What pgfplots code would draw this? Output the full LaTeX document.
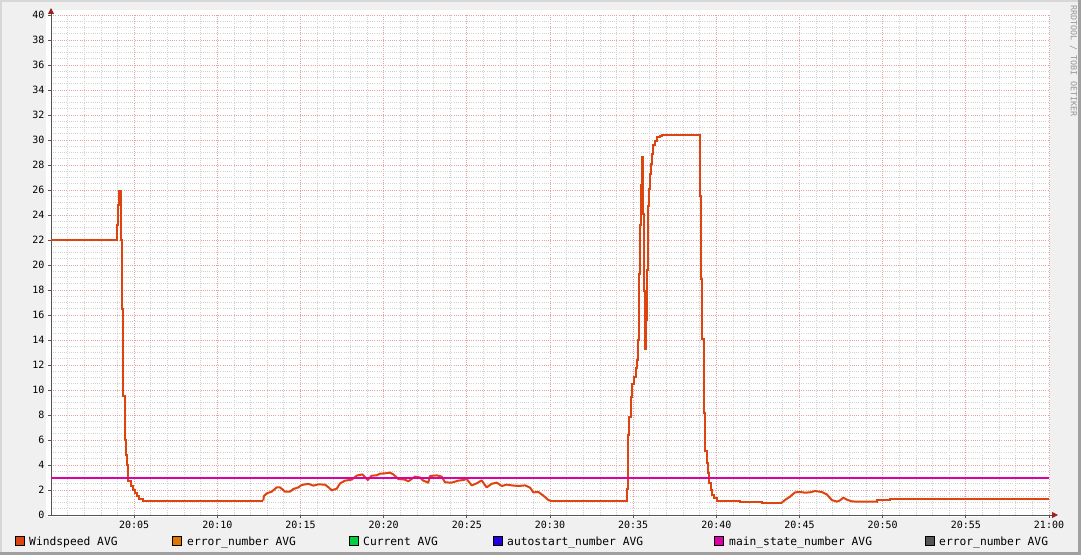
\documentclass[border=0pt]{standalone}
\usepackage{pgfplots}
\pgfplotsset{compat=1.18}
\usepackage{pgfplotstable}
\usepackage{fontspec}
\setmainfont{DejaVu Sans Mono}
\usetikzlibrary{arrows.meta}
\definecolor{bgc}{HTML}{F0F0F0}
\definecolor{wind}{HTML}{DD4410}
\definecolor{errc}{HTML}{E07800}
\definecolor{curc}{HTML}{00D040}
\definecolor{autoc}{HTML}{2200DD}
\definecolor{mainc}{HTML}{DD00A8}
\definecolor{err2c}{HTML}{555555}
\definecolor{majgrid}{HTML}{E6A0A0}
\definecolor{mingrid}{HTML}{D2D2D2}
\definecolor{axc}{HTML}{555555}
\definecolor{arrc}{HTML}{A02020}

% Windspeed AVG, stepped parts
\pgfplotstableread{
t v
0 22
3.99 23.2
4.05 24.8
4.11 25.9
4.19 22.0
4.25 16.5
4.35 9.5
4.43 7.3
4.47 6.0
4.51 4.8
4.59 4.0
4.65 2.7
4.79 2.3
4.91 2.0
5.03 1.8
5.15 1.5
5.27 1.3
5.51 1.15
12.76 1.15
}\windA
% Windspeed AVG, wavy part 1
\pgfplotstableread{
t v
12.76 1.15
12.80 1.5
12.97 1.73
13.27 1.87
13.57 2.21
13.77 2.21
14.07 1.87
14.37 1.87
14.57 2.08
14.87 2.21
15.07 2.4
15.47 2.5
15.77 2.35
16.07 2.45
16.47 2.43
16.70 2.2
16.88 1.97
17.18 2.11
17.38 2.53
17.68 2.75
18.08 2.83
18.38 3.15
18.72 3.25
19.04 2.8
19.28 3.15
19.58 3.17
19.78 3.31
20.08 3.33
20.38 3.39
20.58 3.25
20.88 2.88
21.28 2.83
21.48 2.69
21.88 3.07
22.18 3.0
22.38 2.75
22.68 2.59
22.79 3.12
23.19 3.17
23.49 3.07
23.69 2.61
24.09 2.59
24.49 2.75
24.79 2.8
24.99 2.88
25.29 2.37
25.59 2.53
25.89 2.77
26.19 2.21
26.50 2.5
26.80 2.59
27.10 2.32
27.40 2.43
27.70 2.37
28.09 2.32
28.50 2.37
28.80 2.19
29.00 1.81
29.30 1.84
29.60 1.55
29.90 1.2
30.00 1.15
}\windB
% Windspeed AVG, stepped part 2
\pgfplotstableread{
t v
30.00 1.15
34.61 2.08
34.69 6.4
34.77 7.87
34.85 9.47
34.95 10.5
35.07 11.07
35.15 11.73
35.21 12.4
35.29 14.0
35.34 19.3
35.39 23.2
35.45 26.4
35.51 28.6
35.57 24.1
35.63 17.9
35.69 13.3
35.75 15.6
35.81 19.6
35.87 24.7
35.93 26.1
36.01 27.3
36.07 28.1
36.13 28.9
36.21 29.6
36.31 29.95
36.45 30.2
36.61 30.35
36.72 30.4
39.02 25.5
39.10 18.9
39.16 14.1
39.24 8.13
39.34 5.12
39.42 4.13
39.48 3.33
39.56 2.53
39.66 2.0
39.76 1.6
39.88 1.33
40.06 1.15
41.42 1.07
42.73 0.99
43.93 0.99
}\windC
% Windspeed AVG, wavy part 2
\pgfplotstableread{
t v
43.93 0.99
44.13 1.2
44.43 1.47
44.73 1.81
45.03 1.84
45.33 1.79
45.63 1.81
45.93 1.92
46.34 1.84
46.64 1.65
46.94 1.2
47.24 1.07
47.44 1.17
47.63 1.39
47.84 1.23
48.14 1.09
48.44 1.07
49.64 1.07
}\windD
% Windspeed AVG, stepped tail
\pgfplotstableread{
t v
49.64 1.07
49.65 1.17
50.44 1.28
60 1.28
}\windE

\pgfplotstableread{
t v
0 3
60 3
}\mainstate

\begin{document}
\begin{tikzpicture}[x=1pt,y=1pt]
\useasboundingbox (0,0) rectangle (1081,555);
\fill[bgc] (0,0) rectangle (1081,555);
\draw[line width=2pt,draw={rgb,255:red,215;green,215;blue,215}] (1,0) -- (1,554) -- (1081,554);
\draw[line width=3pt,draw={rgb,255:red,160;green,160;blue,160}] (0,1.5) -- (1079.5,1.5) -- (1079.5,555);
\fill[white] (46,38) rectangle (1050,545);
\begin{axis}[
  at={(51pt,40pt)}, anchor=south west,
  scale only axis, width=998pt, height=500pt,
  xmin=0, xmax=60, ymin=0, ymax=40,
  axis lines=left,
  axis line style={draw=axc, line width=1pt},
  x axis line style={-{Triangle[length=6pt,width=6pt,color=arrc]}, shorten >=-9pt},
  y axis line style={-{Triangle[length=6pt,width=6pt,color=arrc]}, shorten >=-7pt},
  xtick={5,10,...,60},
  xticklabels={20:05,20:10,20:15,20:20,20:25,20:30,20:35,20:40,20:45,20:50,20:55,21:00},
  minor xtick={0,1,...,60},
  ytick={0,2,...,40},
  minor ytick={0,0.5,...,40},
  grid=both,
  major grid style={draw=majgrid, line width=0.8pt, dash pattern=on 1pt off 1.2pt},
  minor grid style={draw=mingrid, line width=0.8pt, dash pattern=on 1pt off 1.2pt},
  tick align=outside,
  major tick length=3pt,
  minor tick length=0pt,
  tick style={draw=axc, line width=0.8pt},
  ticklabel style={font=\fontsize{10}{12}\selectfont, text=black},
  /pgf/number format/assume math mode=true,
  yticklabel style={anchor=east, xshift=0pt},
  xticklabel style={anchor=north, yshift=0pt},
  clip=true,
]
\addplot[const plot, draw=wind, line width=2pt] table[x=t,y=v] {\windA};
\addplot[sharp plot, draw=wind, line width=2pt, line join=round] table[x=t,y=v] {\windB};
\addplot[const plot, draw=wind, line width=2pt] table[x=t,y=v] {\windC};
\addplot[sharp plot, draw=wind, line width=2pt, line join=round] table[x=t,y=v] {\windD};
\addplot[const plot, draw=wind, line width=2pt] table[x=t,y=v] {\windE};
\addplot[draw=mainc, line width=2pt] table[x=t,y=v] {\mainstate};
\end{axis}
% legend
\foreach \sx/\tx/\col/\lab in {15/29/wind/{Windspeed AVG},172/187/errc/{error\_number AVG},349/363/curc/{Current AVG},493/507/autoc/{autostart\_number AVG},714/729/mainc/{main\_state\_number AVG},925/939/err2c/{error\_number AVG}}{
  \filldraw[fill=\col, draw=black, line width=0.8pt] (\sx,10) rectangle ++(9,9);
  \node[anchor=base west, inner sep=0pt, font=\fontsize{11.3}{13}\selectfont] at (\tx,10) {\lab};
}
\node[rotate=-90, anchor=west, inner sep=0pt, text={rgb,255:red,150;green,150;blue,150}, font=\fontsize{8.4}{10}\selectfont] at (1073.5,550) {RRDTOOL / TOBI OETIKER};
\end{tikzpicture}
\end{document}
